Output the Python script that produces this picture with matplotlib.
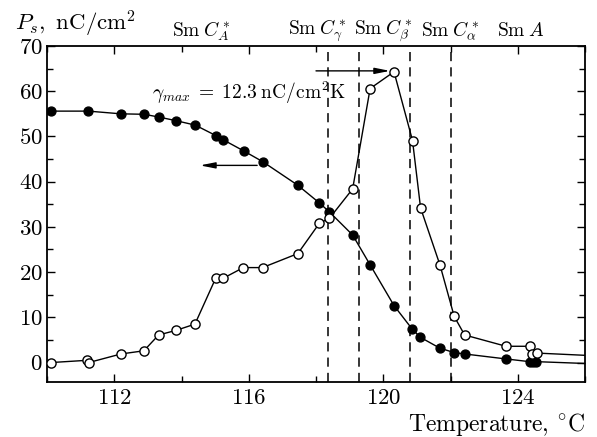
import matplotlib
matplotlib.use("Agg")
import matplotlib.pyplot as plt
from matplotlib.ticker import MultipleLocator, FixedLocator

plt.rcParams['font.family'] = 'serif'
plt.rcParams['font.serif'] = ['cmr10', 'DejaVu Serif']
plt.rcParams['mathtext.fontset'] = 'cm'
plt.rcParams['axes.formatter.use_mathtext'] = True

# Filled circles (Ps, decreasing with T)
filled_T = [110.12, 111.23, 112.2, 112.89, 113.32, 113.83, 114.41, 115.02, 115.23,
            115.85, 116.42, 117.46, 118.10, 118.40, 119.09, 119.61, 120.32, 120.85,
            121.10, 121.68, 122.11, 122.42, 123.65, 124.35, 124.45, 124.55]
filled_P = [55.6, 55.6, 55.0, 54.9, 54.3, 53.5, 52.5, 50.2, 49.3,
            46.8, 44.4, 39.2, 35.3, 33.3, 28.2, 21.6, 12.6, 7.5,
            5.6, 3.2, 2.2, 1.9, 0.8, 0.2, 0.2, 0.2]
filled_tail = (126.0, -0.2)

# Open circles (pyroelectric coefficient gamma)
open_T = [110.12, 111.2, 111.24, 112.2, 112.88, 113.32, 113.83, 114.40, 115.02,
          115.23, 115.84, 116.41, 117.46, 118.10, 118.40, 119.09, 119.61, 120.32,
          120.87, 121.11, 121.69, 122.11, 122.42, 123.65, 124.35, 124.42, 124.56]
open_G = [0.0, 0.5, 0.0, 1.9, 2.6, 6.1, 7.1, 8.5, 18.7,
          18.6, 21.0, 21.0, 24.1, 30.8, 31.9, 38.4, 60.6, 64.3,
          49.1, 34.2, 21.5, 10.2, 6.1, 3.6, 3.6, 1.9, 2.1]
open_tail = (126.0, 1.6)

# Phase boundaries
boundaries = [118.37, 119.29, 120.80, 122.02]
phase_labels = [r'$\mathrm{Sm}\;C_A^*$', r'$\mathrm{Sm}\;C_\gamma^*$',
                r'$\mathrm{Sm}\;C_\beta^*$', r'$\mathrm{Sm}\;C_\alpha^*$',
                r'$\mathrm{Sm}\;A$']
phase_pos = [114.6, 118.05, 120.0, 122.0, 124.1]

xticks = [112, 116, 120, 124]
yticks = [0, 10, 20, 30, 40, 50, 60, 70]

fig = plt.figure(figsize=(5.97, 4.37), dpi=100)
ax = fig.add_axes([47/597, 1-382/437, (585-47)/597, (382-46)/437])

ax.plot(filled_T + [filled_tail[0]], filled_P + [filled_tail[1]], color='k', lw=1.0, zorder=2)
ax.plot(filled_T, filled_P, 'o', color='k', ms=6.4, zorder=3)
ax.plot(open_T + [open_tail[0]], open_G + [open_tail[1]], color='k', lw=1.0, zorder=2)
ax.plot(open_T, open_G, 'o', mfc='white', mec='k', mew=1.0, ms=6.6, zorder=3)

for b in boundaries:
    ax.axvline(b, color='k', lw=1.1, ls=(0, (6, 4)), zorder=1)

ax.annotate('', xy=(114.55, 43.6), xytext=(116.25, 43.6),
            arrowprops=dict(arrowstyle='-|>,head_length=0.9,head_width=0.18',
                            color='k', lw=1.0, shrinkA=0, shrinkB=0))
ax.annotate('', xy=(120.2, 64.5), xytext=(118.0, 64.5),
            arrowprops=dict(arrowstyle='-|>,head_length=0.9,head_width=0.18',
                            color='k', lw=1.0, shrinkA=0, shrinkB=0))
ax.text(113.12, 59.6, r'$\gamma_{max}\;=\;12.3\;\mathrm{nC/cm^2K}$', fontsize=14,
        va='center', ha='left')

ax.set_xlim(110, 126)
ax.set_ylim(-4.3, 70)
ax.xaxis.set_major_locator(FixedLocator(xticks))
ax.xaxis.set_minor_locator(FixedLocator([110, 114, 118, 122, 126]))
ax.yaxis.set_major_locator(FixedLocator(yticks))
ax.yaxis.set_minor_locator(MultipleLocator(5))
ax.tick_params(which='both', direction='in', top=True, right=True, labelsize=16.5,
               width=1.0)
ax.tick_params(which='major', length=6)
ax.tick_params(which='minor', length=4.5)
ax.tick_params(axis='x', which='major', pad=5)
ax.tick_params(axis='y', which='major', pad=3)
for s in ax.spines.values():
    s.set_linewidth(1.3)

for lab, pos in zip(phase_labels, phase_pos):
    ax.text(pos, 1.045, lab, transform=ax.get_xaxis_transform(), ha='center',
            va='center', fontsize=14)

fig.text(15/597, 1-24/437, r'$P_s,\ \mathrm{nC/cm^2}$', fontsize=16.5, va='center', ha='left')
fig.text(585/597, 1-425/437, 'Temperature, $^{\\circ}$C', fontsize=17, va='center', ha='right')

fig.savefig('out.png', dpi=100)
